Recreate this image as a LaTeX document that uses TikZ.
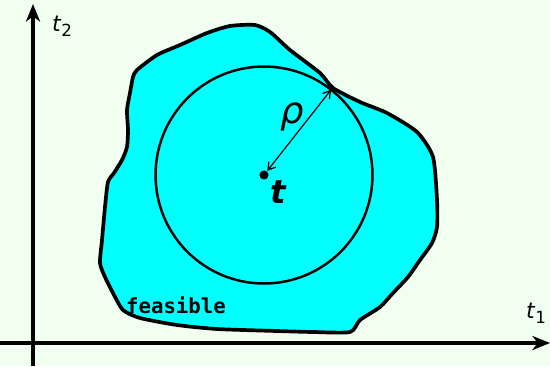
\documentclass[tikz,border=0pt]{standalone}
\usepackage{fontspec}
\setmainfont{DejaVu Sans}
\setmonofont{DejaVu Sans Mono}
\usetikzlibrary{arrows.meta,positioning,calc}
\definecolor{bgmint}{RGB}{240,255,240}
\definecolor{feascyan}{RGB}{0,255,255}
\newcommand{\tsub}[1]{\textit{t}\raisebox{-0.45ex}{\fontsize{9.5}{10}\selectfont #1}}

\begin{document}
\begin{tikzpicture}[x=0.02cm, y=-0.02cm, every node/.style={inner sep=0pt, font=\fontsize{12.5}{14}\selectfont},
    axisline/.style={line width=2pt, -{Stealth[length=10pt,width=8pt,inset=3pt]}}]
        % --- Background ---
        \fill[bgmint] (0,0) rectangle (550,366);
        \useasboundingbox (0,0) rectangle (550,366);

        % --- Axes ---
        \coordinate (ybot) at (33,366);
        \coordinate (ytop) at (33,4);
        \coordinate (xleft) at (0,343);
        \coordinate (xright) at (550,343);
        \draw[axisline] (ybot) -- (ytop);
        \draw[axisline] (xleft) -- (xright);
        \node (lab2) at (62,26) {\tsub{2}};
        \node (lab1) at (536,313) {\tsub{1}};

        % --- Feasible set ---
        \filldraw[fill=feascyan, line width=2.1pt, line join=round]
          plot[smooth cycle, tension=0.4] coordinates {
            (137,70) (157,55) (180,45) (207,33) (230,26) (255,25) (270,32)
            (290,50) (320,73) (333,88) (360,102) (387,113) (417,132) (433,157)
            (437,200) (437,227) (432,243) (420,260) (408,277) (393,293) (380,307)
            (360,320) (350,332) (313,332) (277,331) (217,329) (177,325) (140,318)
            (123,310) (113,293) (105,277) (100,263) (102,240) (105,207) (108,182)
            (114,173) (122,160) (127,147) (128,130) (127,110) (130,93) (133,77)};
        \node[font=\ttfamily\bfseries\fontsize{11.8}{12}\selectfont] (feas) at (176,305) {feasible};

        % --- Inscribed ball ---
        \coordinate (c) at (264,175);
        \draw[line width=1.4pt] (c) circle [radius=2.17cm];
        \fill (c) circle (2.6pt);
        \coordinate (touch) at ($(c)+(51.8:2.17cm)$);
        \draw[{Straight Barb[length=4pt,width=5pt]}-{Straight Barb[length=4pt,width=5pt]},
              line width=0.7pt, shorten <=3pt] (c) -- (touch);
        \node[font=\fontsize{21}{22}\selectfont] (rho) at (292,117) {\textit{ρ}};
        \node[font=\fontsize{18.5}{20}\selectfont\bfseries\itshape] (tvec) at (278,192) {t};
\end{tikzpicture}
\end{document}
